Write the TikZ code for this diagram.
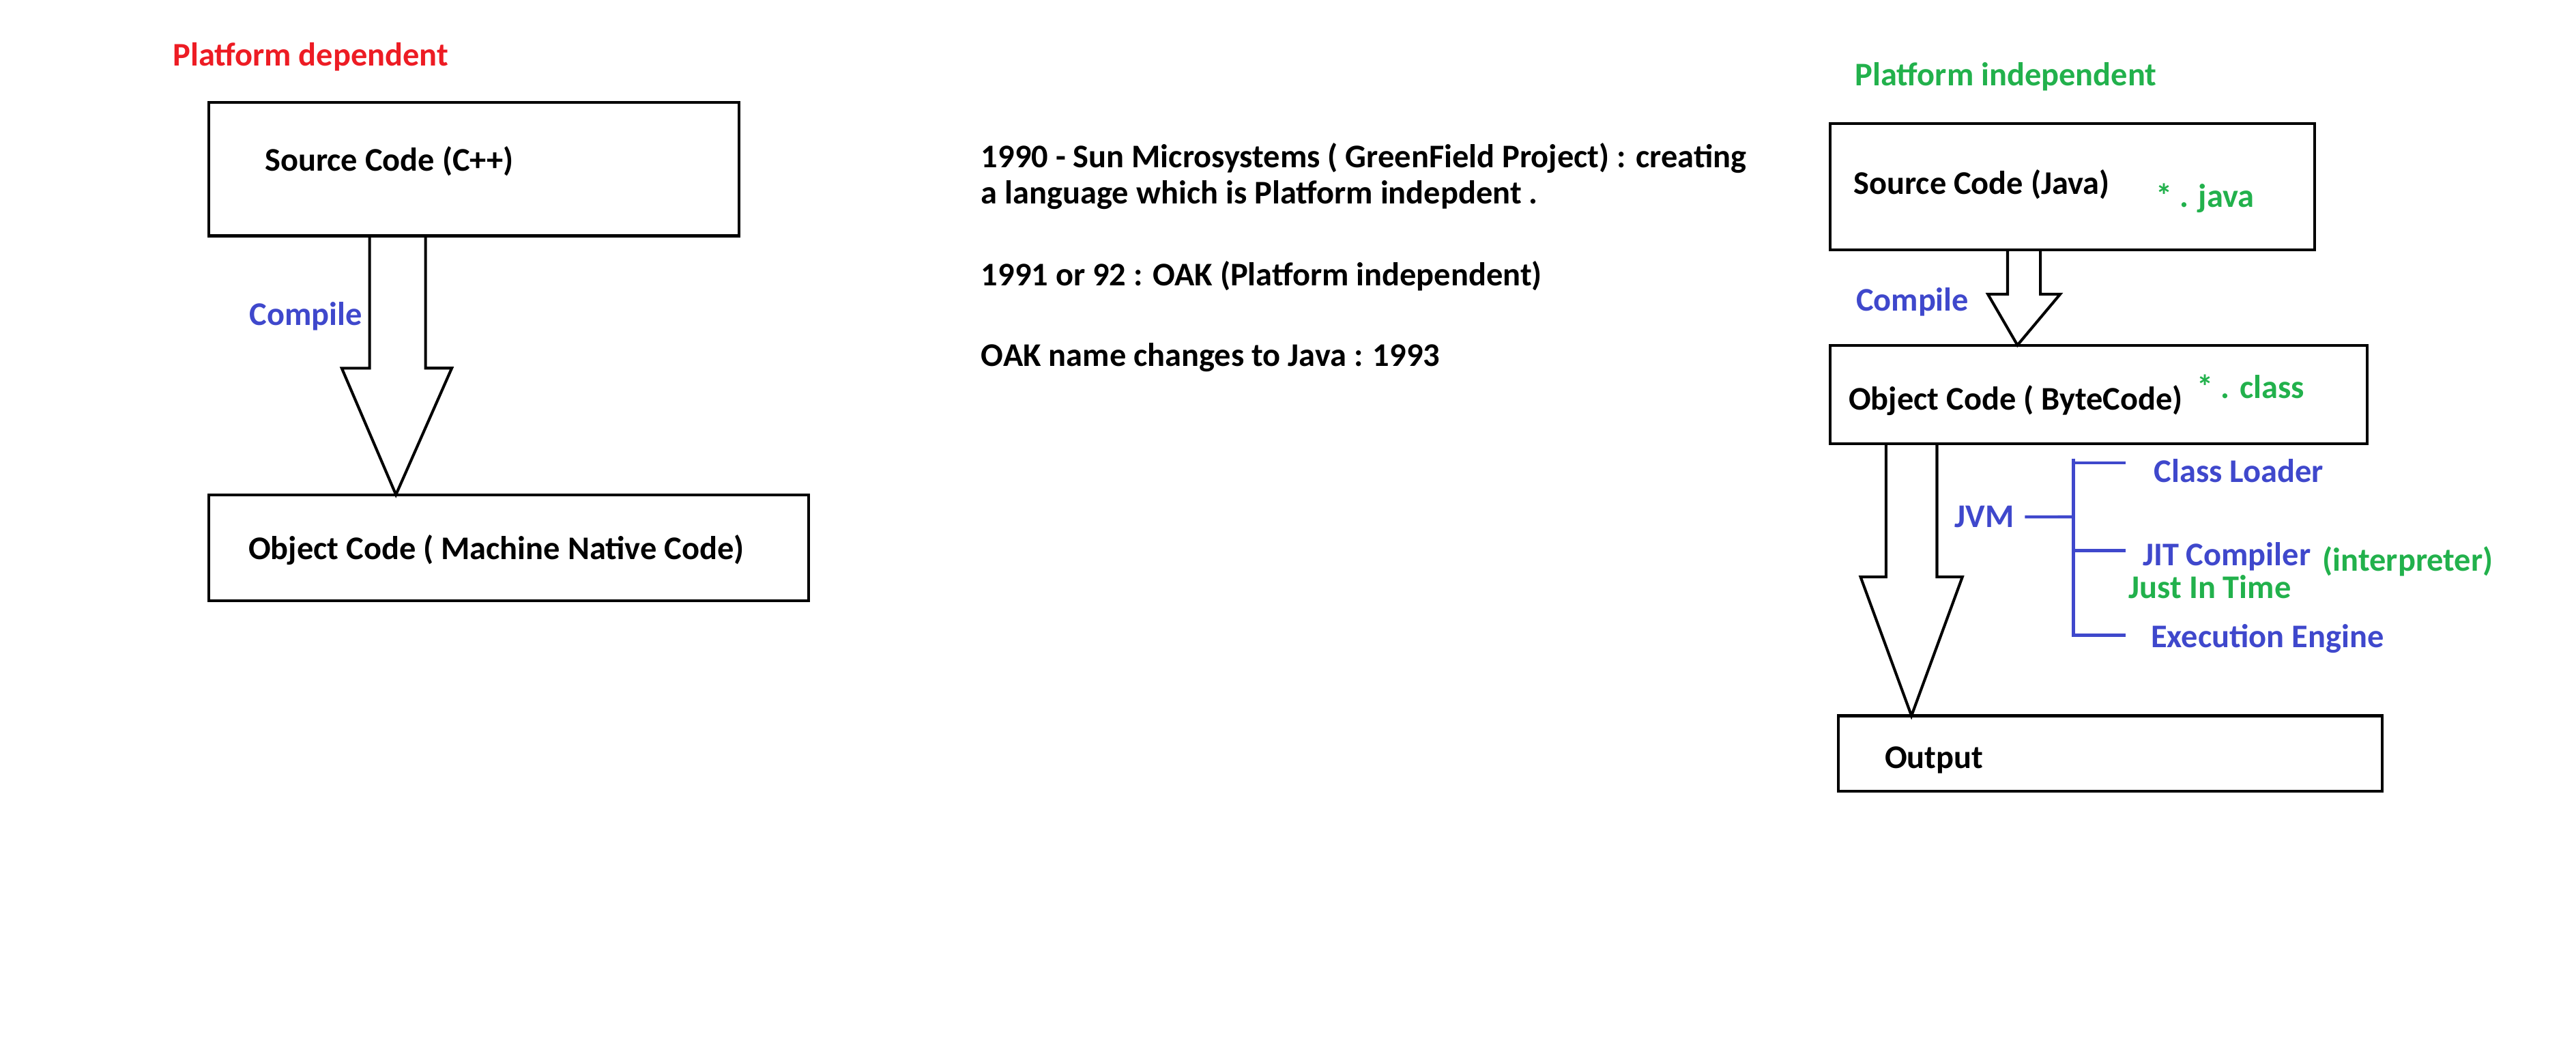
\documentclass[tikz,border=0pt]{standalone}
\usepackage{fontspec}
\setmainfont{Carlito}
\usetikzlibrary{calc}
\definecolor{paintred}{RGB}{237,28,36}
\definecolor{paintgreen}{RGB}{34,177,76}
\definecolor{paintblue}{RGB}{63,72,204}

\begin{document}
\begin{tikzpicture}[
    x=0.25mm,y=-0.25mm,
    every node/.style={font=\bfseries\fontsize{14.3pt}{17pt}\selectfont,inner sep=0pt,anchor=base west},
    codebox/.style={draw,line width=1.2pt,outer sep=0pt,anchor=north west},
    blockarrow/.style={draw,line width=1.2pt,line join=miter},
    jvmline/.style={draw=paintblue,line width=1.3pt}
]

% frame
\useasboundingbox (0,0) rectangle (1568,640);

% headings
\node[text=paintred]   (dephead)   at (105,40)  {Platform dependent};
\node[text=paintgreen] (indephead) at (1129,52) {Platform independent};

% C++ side
\node[codebox,minimum width=80.75mm,minimum height=20.25mm] (srccpp) at (127,62.5) {};
\node (srccpptxt) at (161,104) {Source Code (C++)};
\node[codebox,minimum width=91.25mm,minimum height=16.125mm] (objcpp) at (127,301) {};
\node (objcpptxt) at (151,340.5) {Object Code ( Machine Native Code)};
\node[text=paintblue] (cmpcpp) at (151.5,198) {Compile};

\draw[blockarrow] ($(srccpp.south west)+(98,0)$) -- ++(0,80.5) -- ++(-17,0)
    -- ($(objcpp.north west)+(114,0)$) -- ++(34,-77) -- ++(-16,0) -- ++(0,-80.5);

% history notes
\node (hist1) at (597,102) {1990 - Sun Microsystems ( GreenField Project) : creating};
\node (hist2) at (597,124) {a language which is Platform indepdent .};
\node (hist3) at (597,174) {1991 or 92 : OAK (Platform independent)};
\node (hist4) at (597,223) {OAK name changes to Java : 1993};

% Java side
\node[codebox,minimum width=73.75mm,minimum height=19.25mm] (srcjava) at (1114,75) {};
\node (srcjavatxt) at (1128,118) {Source Code (Java)};
\node[text=paintgreen] (javaext) at (1312,126) {* . java};
\node[codebox,minimum width=81.75mm,minimum height=15mm] (bytecode) at (1114,210) {};
\node (bytetxt) at (1125,249.5) {Object Code ( ByteCode)};
\node[text=paintgreen] (classext) at (1337,242.5) {* . class};
\node[text=paintblue] (cmpjava) at (1129.5,189) {Compile};
\node[codebox,minimum width=82.75mm,minimum height=11.5mm] (output) at (1119,435.5) {};
\node (outtxt) at (1147,467.5) {Output};

\draw[blockarrow] ($(srcjava.south west)+(108,0)$) -- ++(0,27) -- ++(-12,0)
    -- ($(bytecode.north west)+(114,0)$) -- ++(26,-31) -- ++(-12,0) -- ++(0,-27);
\draw[blockarrow] ($(bytecode.south west)+(34,0)$) -- ++(0,81) -- ++(-15.5,0)
    -- ($(output.north west)+(44.5,0)$) -- ++(31,-84.5) -- ++(-15.5,0) -- ++(0,-81);

% JVM parts
\node[text=paintblue] (jvm) at (1189.5,321) {JVM};
\coordinate (jvmbar) at (1262,314.5);
\node[text=paintblue]  (classloader) at (1311,293.5) {Class Loader};
\node[text=paintblue]  (jit)         at (1304,344)   {JIT Compiler};
\node[text=paintgreen] (interp)      at (1413.5,347.5) {(interpreter)};
\node[text=paintgreen] (justintime)  at (1295.5,364) {Just In Time};
\node[text=paintblue]  (execengine)  at (1309,394)   {Execution Engine};

\draw[jvmline] ([xshift=1.6mm]jvm.east) -- (jvmbar);
\draw[jvmline] ($(jvmbar)+(0,-35.5)$) -- ($(jvmbar)+(0,73)$);
\foreach \dy in {-33,20.5,72}
  \draw[jvmline] ($(jvmbar)+(0,\dy)$) -- ++(32,0);

\end{tikzpicture}
\end{document}
